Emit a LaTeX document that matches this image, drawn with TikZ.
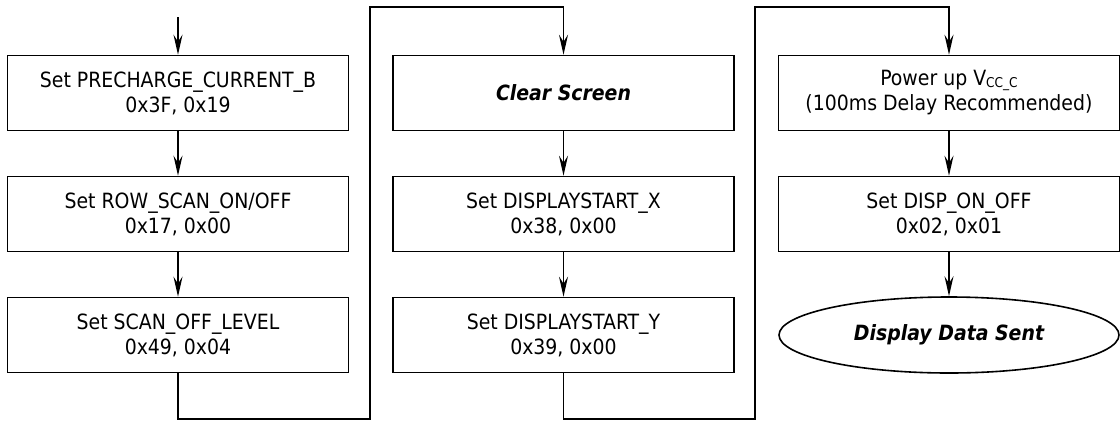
\documentclass[tikz,border=0pt]{standalone}
\usepackage{fontspec}
\setmainfont{DejaVu Sans Condensed}
\usetikzlibrary{arrows.meta,shapes.geometric}
\tikzset{
  stepbox/.style={draw, line width=1.6pt, rectangle, minimum width=341pt, minimum height=75pt, inner sep=0pt, align=center, font=\fontsize{21}{25}\selectfont},
  endoval/.style={draw, line width=1.6pt, ellipse, minimum width=340pt, minimum height=76pt, inner sep=0pt, align=center, font=\fontsize{21}{25}\selectfont\bfseries\itshape},
  conn/.style={line width=1.4pt},
  arr/.style={conn, -{Stealth[length=20pt,width=9pt,inset=7pt]}}
}
\begin{document}
\begin{tikzpicture}[x=1pt,y=-1pt]
\useasboundingbox (0,0) rectangle (1120,421);
% column 1
\node[stepbox] (b11) at (178,93) {Set PRECHARGE\_CURRENT\_B\\0x3F, 0x19};
\node[stepbox] (b12) at (178,214) {Set ROW\_SCAN\_ON/OFF\\0x17, 0x00};
\node[stepbox] (b13) at (178,335) {Set SCAN\_OFF\_LEVEL\\0x49, 0x04};
% column 2
\node[stepbox] (b21) at (563.5,93) {\bfseries\itshape Clear Screen};
\node[stepbox] (b22) at (563.5,214) {Set DISPLAYSTART\_X\\0x38, 0x00};
\node[stepbox] (b23) at (563.5,335) {Set DISPLAYSTART\_Y\\0x39, 0x00};
% column 3
\node[stepbox] (b31) at (949,93) {Power up V{\fontsize{13.5}{13.5}\selectfont\raisebox{-2pt}{CC\_C}}\\(100ms Delay Recommended)};
\node[stepbox] (b32) at (949,214) {Set DISP\_ON\_OFF\\0x02, 0x01};
\node[endoval] (e33) at (949,335) {Display Data Sent};
% connectors
\coordinate (start) at (178,17);
\coordinate (bot1) at (370,419);
\coordinate (top1) at (370,7);
\coordinate (bot2) at (755,419);
\coordinate (top2) at (755,7);
\draw[arr] (start) -- (b11.north);
\draw[arr] (b11) -- (b12);
\draw[arr] (b12) -- (b13);
\draw[arr] (b13.south) |- (bot1) -- (top1) -| (b21.north);
\draw[arr] (b21) -- (b22);
\draw[arr] (b22) -- (b23);
\draw[arr] (b23.south) |- (bot2) -- (top2) -| (b31.north);
\draw[arr] (b31) -- (b32);
\draw[arr] (b32) -- (e33);
\end{tikzpicture}
\end{document}
